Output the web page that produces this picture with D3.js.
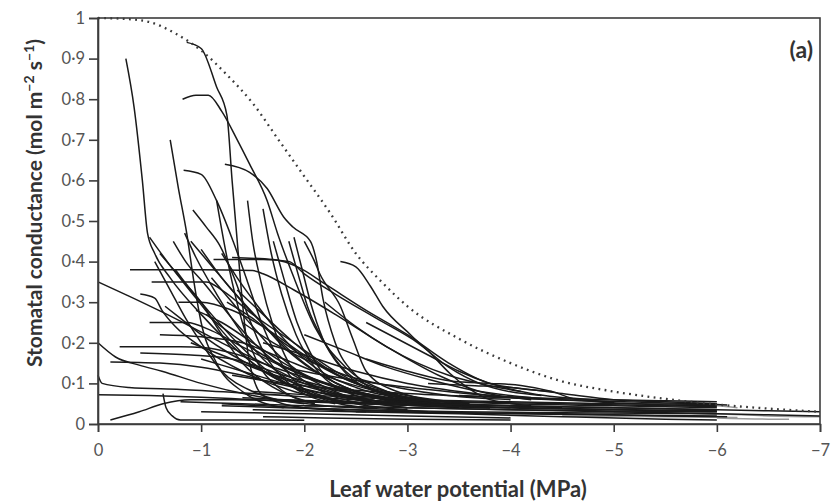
<!DOCTYPE html>
<html><head><meta charset="utf-8">
<script src="https://cdn.jsdelivr.net/npm/d3@7"></script>
<style>html,body{margin:0;padding:0;background:#fff}svg{display:block}</style>
</head><body><svg id="c" width="838" height="501"></svg>
<script>
const xTicks = [0,-1,-2,-3,-4,-5,-6,-7];
const xTickLabels = ["0","\u22121","\u22122","\u22123","\u22124","\u22125","\u22126","\u22127"];
const yTicks = [0,0.1,0.2,0.3,0.4,0.5,0.6,0.7,0.8,0.9,1];
const yTickLabels = ["0","0\u00b71","0\u00b72","0\u00b73","0\u00b74","0\u00b75","0\u00b76","0\u00b77","0\u00b78","0\u00b79","1"];

// dotted envelope
const envPsi = [0,-0.25,-0.5,-0.75,-1.0,-1.25,-1.5,-1.75,-2.0,-2.25,-2.5,-2.75,-3.0,-3.5,-4.0,-4.5,-5.0,-5.5,-6.0,-6.5,-7.0];
const envGs  = [1.0,0.998,0.99,0.962,0.92,0.86,0.79,0.70,0.61,0.52,0.42,0.35,0.29,0.21,0.15,0.105,0.08,0.062,0.048,0.038,0.03];

// individual response curves [psi, gs]
const upperCurves = [
 [[-0.27,0.90],[-0.35,0.78],[-0.43,0.60],[-0.48,0.47],[-0.55,0.42],[-0.7,0.36],[-1.0,0.27],[-1.4,0.17],[-1.9,0.09],[-2.5,0.05],[-3.2,0.03]],
 [[-0.86,0.94],[-1.0,0.925],[-1.15,0.83],[-1.25,0.76],[-1.3,0.6],[-1.35,0.45],[-1.4,0.3],[-1.47,0.15],[-1.6,0.07],[-2.0,0.04],[-2.6,0.03]],
 [[-0.82,0.80],[-0.95,0.81],[-1.07,0.81],[-1.2,0.77],[-1.35,0.70],[-1.47,0.64],[-1.64,0.55],[-1.74,0.47],[-1.9,0.36],[-2.1,0.24],[-2.4,0.14],[-2.8,0.08],[-3.3,0.05]],
 [[-0.7,0.70],[-0.78,0.58],[-0.86,0.47],[-0.93,0.35],[-1.0,0.25],[-1.15,0.15],[-1.4,0.08],[-1.8,0.04]],
 [[-0.83,0.625],[-1.0,0.615],[-1.15,0.55],[-1.31,0.45],[-1.45,0.35],[-1.6,0.24],[-1.8,0.14],[-2.1,0.07],[-2.6,0.04]],
 [[-0.92,0.527],[-1.05,0.485],[-1.18,0.44],[-1.32,0.36],[-1.45,0.27],[-1.6,0.18],[-1.85,0.1],[-2.3,0.05]],
 [[-1.23,0.64],[-1.47,0.62],[-1.64,0.58],[-1.8,0.51],[-1.89,0.485],[-2.06,0.45],[-2.12,0.40],[-2.18,0.31],[-2.3,0.2],[-2.5,0.12],[-2.8,0.07],[-3.3,0.045]],
 [[-2.35,0.40],[-2.5,0.387],[-2.64,0.34],[-2.76,0.29],[-3.03,0.22],[-3.22,0.175],[-3.41,0.125],[-3.58,0.09],[-3.8,0.06],[-4.2,0.045]]
];
const plateauCurves = [
 [[-0.31,0.38],[-1.0,0.38],[-1.5,0.378],[-1.6,0.37],[-1.9,0.33],[-2.3,0.27],[-2.8,0.19],[-3.3,0.12],[-3.7,0.08],[-4.2,0.06]],
 [[-1.12,0.405],[-1.6,0.405],[-1.85,0.40],[-2.0,0.37],[-2.3,0.32],[-2.7,0.26],[-3.1,0.2],[-3.4,0.14],[-3.7,0.1],[-4.3,0.07]],
 [[-1.3,0.41],[-1.7,0.405],[-1.95,0.385],[-2.2,0.345],[-2.6,0.28],[-3.0,0.22],[-3.4,0.15],[-3.8,0.10],[-4.4,0.08]],
 [[-0.52,0.35],[-1.05,0.35],[-1.2,0.33],[-1.5,0.27],[-1.9,0.2],[-2.3,0.13],[-2.7,0.08],[-3.2,0.05]],
 [[-0.21,0.19],[-0.8,0.19],[-1.04,0.188],[-1.3,0.175],[-1.7,0.14],[-2.2,0.1],[-2.8,0.065],[-3.5,0.045]],
 [[-0.41,0.175],[-0.9,0.17],[-1.3,0.16],[-1.8,0.12],[-2.4,0.08],[-3.0,0.055]],
 [[-0.12,0.153],[-0.6,0.15],[-1.0,0.14],[-1.4,0.12],[-1.9,0.09],[-2.5,0.06],[-3.5,0.04]],
 [[-0.5,0.25],[-0.86,0.25],[-1.1,0.23],[-1.4,0.19],[-1.8,0.14],[-2.3,0.09],[-2.9,0.055]],
 [[-0.41,0.32],[-0.55,0.31],[-0.62,0.28],[-0.75,0.24],[-1.0,0.19],[-1.4,0.13],[-1.9,0.08],[-2.6,0.05]],
 [[-0.78,0.3],[-1.0,0.3],[-1.3,0.28],[-1.6,0.24],[-2.0,0.17],[-2.4,0.11],[-2.9,0.07]],
 [[-0.6,0.22],[-1.0,0.215],[-1.4,0.2],[-1.8,0.16],[-2.3,0.11],[-2.9,0.07],[-3.6,0.05]]
];
const originCurves = [
 [[0,0.35],[-0.3,0.315],[-0.62,0.276],[-0.9,0.24],[-1.2,0.2],[-1.6,0.15],[-2.0,0.1],[-2.5,0.06],[-3.0,0.04]],
 [[0,0.2],[-0.17,0.165],[-0.4,0.145],[-0.62,0.13],[-1.0,0.1],[-1.5,0.07],[-2.2,0.045],[-3.0,0.035]],
 [[0,0.12],[-0.04,0.1],[-0.3,0.09],[-0.8,0.085],[-1.5,0.075],[-2.5,0.06],[-3.5,0.05],[-4.5,0.04]],
 [[0,0.072],[-0.5,0.07],[-1.0,0.066],[-1.5,0.06],[-2.5,0.05],[-3.5,0.042],[-5.0,0.035],[-6.0,0.03]],
 [[-0.12,0.01],[-0.4,0.03],[-0.63,0.05],[-0.9,0.06],[-1.3,0.06],[-2.0,0.055],[-3.0,0.05]],
 [[-0.63,0.075],[-0.66,0.04],[-0.72,0.02],[-0.8,0.01],[-1.4,0.01],[-2.0,0.009]]
];
const diagonalCurves = [
 [[-0.5,0.46],[-0.7,0.39],[-0.95,0.31],[-1.2,0.23],[-1.5,0.15],[-1.9,0.09],[-2.4,0.05]],
 [[-0.84,0.47],[-0.95,0.41],[-1.15,0.32],[-1.35,0.24],[-1.6,0.16],[-1.9,0.1],[-2.3,0.06]],
 [[-0.73,0.45],[-0.85,0.4],[-1.05,0.34],[-1.3,0.26],[-1.55,0.19],[-1.9,0.12],[-2.4,0.07],[-3.0,0.05]],
 [[-0.6,0.42],[-0.8,0.36],[-1.0,0.3],[-1.2,0.22],[-1.4,0.15],[-1.7,0.09],[-2.1,0.05]],
 [[-0.55,0.4],[-0.7,0.33],[-0.85,0.26],[-1.0,0.2],[-1.2,0.13],[-1.5,0.08],[-2.0,0.05]],
 [[-0.9,0.45],[-1.1,0.39],[-1.3,0.33],[-1.55,0.26],[-1.8,0.19],[-2.1,0.13],[-2.5,0.08],[-3.0,0.05]],
 [[-1.0,0.43],[-1.2,0.36],[-1.4,0.3],[-1.7,0.22],[-2.0,0.15],[-2.4,0.09],[-2.9,0.06]],
 [[-0.95,0.28],[-1.2,0.25],[-1.5,0.2],[-1.8,0.15],[-2.2,0.1],[-2.7,0.07],[-3.3,0.05]],
 [[-0.65,0.29],[-0.8,0.26],[-1.0,0.22],[-1.3,0.17],[-1.7,0.12],[-2.2,0.08],[-2.9,0.05]],
 [[-1.1,0.36],[-1.3,0.3],[-1.5,0.24],[-1.75,0.17],[-2.0,0.12],[-2.4,0.07],[-3.0,0.04]],
 [[-1.05,0.27],[-1.3,0.22],[-1.6,0.17],[-2.0,0.12],[-2.5,0.08],[-3.1,0.05],[-3.8,0.04]],
 [[-1.25,0.3],[-1.5,0.26],[-1.8,0.2],[-2.1,0.15],[-2.5,0.1],[-3.0,0.07],[-3.6,0.05]],
 [[-0.9,0.2],[-1.2,0.17],[-1.6,0.13],[-2.0,0.1],[-2.6,0.07],[-3.3,0.05],[-4.0,0.04]],
 [[-1.4,0.25],[-1.7,0.2],[-2.0,0.16],[-2.4,0.12],[-2.9,0.09],[-3.4,0.07],[-4.0,0.06]],
 [[-1.15,0.55],[-1.22,0.45],[-1.3,0.35],[-1.4,0.25],[-1.55,0.15],[-1.75,0.09],[-2.1,0.05]],
 [[-1.45,0.55],[-1.5,0.45],[-1.58,0.35],[-1.7,0.24],[-1.85,0.15],[-2.1,0.09],[-2.6,0.05]],
 [[-1.6,0.53],[-1.68,0.42],[-1.78,0.32],[-1.92,0.22],[-2.1,0.14],[-2.4,0.08],[-2.9,0.05]],
 [[-1.9,0.46],[-1.98,0.38],[-2.06,0.3],[-2.18,0.21],[-2.35,0.14],[-2.6,0.09],[-3.1,0.06]],
 [[-1.7,0.45],[-1.8,0.36],[-1.93,0.25],[-2.05,0.18],[-2.18,0.126],[-2.5,0.08],[-3.0,0.05]],
 [[-1.85,0.45],[-1.95,0.36],[-2.03,0.29],[-2.2,0.2],[-2.4,0.13],[-2.8,0.08],[-3.4,0.05]],
 [[-2.0,0.45],[-2.1,0.4],[-2.15,0.37],[-2.35,0.29],[-2.47,0.21],[-2.6,0.13],[-2.9,0.08],[-3.5,0.05]],
 [[-0.75,0.38],[-0.9,0.33],[-1.1,0.27],[-1.35,0.2],[-1.65,0.13],[-2.0,0.08],[-2.6,0.05]],
 [[-1.2,0.42],[-1.35,0.36],[-1.55,0.29],[-1.8,0.21],[-2.1,0.14],[-2.5,0.09],[-3.1,0.06]],
 [[-1.35,0.33],[-1.6,0.27],[-1.9,0.2],[-2.2,0.14],[-2.6,0.09],[-3.2,0.06]],
 [[-1.0,0.16],[-1.4,0.13],[-1.8,0.1],[-2.3,0.07],[-3.0,0.05],[-3.8,0.04]]
];
const middleCurves = [
 [[-1.6,0.2],[-2.0,0.17],[-2.5,0.13],[-3.0,0.1],[-3.5,0.08],[-4.0,0.065],[-5.0,0.055]],
 [[-2.0,0.22],[-2.4,0.18],[-2.8,0.14],[-3.2,0.11],[-3.6,0.085],[-4.2,0.065]],
 [[-1.3,0.12],[-1.8,0.1],[-2.4,0.085],[-3.0,0.075],[-3.6,0.068],[-4.5,0.06],[-5.5,0.052],[-6.0,0.05]],
 [[-2.2,0.3],[-2.5,0.24],[-2.8,0.19],[-3.1,0.15],[-3.4,0.12],[-3.7,0.1],[-4.1,0.08]],
 [[-2.6,0.25],[-2.9,0.21],[-3.2,0.17],[-3.5,0.13],[-3.8,0.1],[-4.2,0.075],[-4.8,0.06]],
 [[-2.6,0.16],[-3.0,0.13],[-3.44,0.105],[-3.8,0.1],[-4.1,0.095],[-4.4,0.08],[-4.65,0.06],[-5.2,0.05],[-6.0,0.045]],
 [[-3.2,0.1],[-3.6,0.095],[-4.0,0.09],[-4.5,0.075],[-5.0,0.06],[-5.5,0.055],[-6.0,0.05]],
 [[-1.8,0.14],[-2.2,0.12],[-2.7,0.1],[-3.2,0.085],[-3.8,0.07],[-4.5,0.06]]
];
const lowCurves = [
 [[-1.5,0.08],[-2.5,0.065],[-3.5,0.055],[-4.5,0.05],[-5.5,0.045],[-6.0,0.043]],
 [[-1.8,0.06],[-3.0,0.05],[-4.0,0.045],[-5.0,0.04],[-6.0,0.035]],
 [[-2.0,0.045],[-3.0,0.04],[-4.0,0.035],[-5.0,0.03],[-6.0,0.025],[-7.0,0.02]],
 [[-1.2,0.05],[-2.0,0.04],[-3.0,0.03],[-4.0,0.025],[-5.0,0.022],[-6.0,0.02]],
 [[-3.0,0.06],[-4.0,0.055],[-5.0,0.05],[-6.0,0.048],[-6.1,0.047]],
 [[-2.5,0.03],[-3.5,0.028],[-4.5,0.025],[-5.5,0.02],[-6.1,0.018]],
 [[-3.5,0.07],[-4.5,0.062],[-5.5,0.057],[-6.0,0.055]],
 [[-1.5,0.035],[-2.5,0.03],[-3.5,0.025],[-4.5,0.018],[-5.5,0.012],[-6.0,0.01]],
 [[-3.0,0.05],[-4.0,0.045],[-5.0,0.04],[-6.0,0.035],[-7.0,0.03]],
 [[-1.0,0.03],[-1.5,0.028],[-2.0,0.025],[-3.0,0.02],[-4.0,0.015]],
 [[-1.2,0.045],[-1.8,0.04],[-2.5,0.035],[-3.5,0.03],[-4.5,0.028],[-6.0,0.025]],
 [[-1.6,0.018],[-2.2,0.015],[-3.0,0.012],[-4.0,0.01]],
 [[-0.8,0.055],[-1.4,0.05],[-2.0,0.045],[-3.0,0.04],[-4.0,0.035],[-5.0,0.032],[-6.0,0.03]],
 [[-1.4,0.065],[-2.2,0.055],[-3.2,0.045],[-4.2,0.04],[-5.2,0.035],[-6.0,0.033]],
 [[-2.2,0.075],[-3.0,0.06],[-4.0,0.05],[-5.0,0.045],[-6.0,0.04]]
];
const grayCurves = [
 [[-5.0,0.03],[-5.5,0.028],[-6.0,0.025],[-6.5,0.02],[-7.0,0.018]],
 [[-5.6,0.05],[-6.0,0.045],[-6.2,0.04]],
 [[-6.0,0.015],[-6.5,0.012],[-6.7,0.012]],
 [[-4.5,0.02],[-5.5,0.018],[-6.2,0.016]]
];

const W = 838, H = 501;
const m = {l:98, r:18, t:18, b:77};
const svg = d3.select("#c");
const x = d3.scaleLinear().domain([0,-7]).range([m.l, W-m.r]);
const y = d3.scaleLinear().domain([0,1]).range([H-m.b, m.t]);

const line = d3.line().x(d=>x(d[0])).y(d=>y(d[1])).curve(d3.curveMonotoneX);
const g = svg.append("g");
const black = [].concat(upperCurves, plateauCurves, originCurves, diagonalCurves, middleCurves, lowCurves);
g.selectAll("path.gc").data(grayCurves).join("path").attr("class","gc")
 .attr("d", line).attr("fill","none").attr("stroke","#9a9a9a").attr("stroke-width",1.5);
g.selectAll("path.bc").data(black).join("path").attr("class","bc")
 .attr("d", line).attr("fill","none").attr("stroke","#1a1a1a").attr("stroke-width",1.5);

const env = envPsi.map((p,i)=>[p, envGs[i]]);
svg.append("path").attr("d", line(env))
 .attr("fill","none").attr("stroke","#3a3a3a").attr("stroke-width",2.3).attr("stroke-dasharray","1.8,4.4");

// frame
svg.append("rect").attr("x",m.l).attr("y",m.t).attr("width",W-m.l-m.r).attr("height",H-m.t-m.b)
 .attr("fill","none").attr("stroke","#3c3c3c").attr("stroke-width",1.6);

const font = "Lato, 'Open Sans', sans-serif";
const xAxis = d3.axisBottom(x).tickValues(xTicks).tickSize(8).tickPadding(12)
 .tickFormat((d,i)=>xTickLabels[i]);
const gx = svg.append("g").attr("transform",`translate(0,${H-m.b})`).call(xAxis);
const yAxis = d3.axisLeft(y).tickValues(yTicks).tickSize(9).tickPadding(4)
 .tickFormat((d,i)=>yTickLabels[i]);
const gy = svg.append("g").attr("transform",`translate(${m.l},0)`).call(yAxis);
[gx,gy].forEach(a=>{
  a.select(".domain").attr("stroke","#3c3c3c").attr("stroke-width",1.6);
  a.selectAll(".tick line").attr("stroke","#3c3c3c").attr("stroke-width",1.6);
  a.selectAll(".tick text").attr("fill","#555").style("font-family",font).style("font-size","16.5px");
});

svg.append("text").attr("x",458).attr("y",497).attr("text-anchor","middle")
 .style("font-family",font).style("font-weight","bold").style("font-size","22px").attr("fill","#333")
 .text("Leaf water potential (MPa)");

const yt = svg.append("text").attr("transform","translate(42,203) rotate(-90)").attr("text-anchor","middle")
 .style("font-family",font).style("font-weight","bold").style("font-size","21px").attr("fill","#333");
yt.append("tspan").text("Stomatal conductance (mol m");
yt.append("tspan").attr("dy",-8).style("font-size","14px").text("\u22122");
yt.append("tspan").attr("dy",8).text(" s");
yt.append("tspan").attr("dy",-8).style("font-size","14px").text("\u22121");
yt.append("tspan").attr("dy",8).text(")");

svg.append("text").attr("x",813).attr("y",58).attr("text-anchor","end")
 .style("font-family",font).style("font-weight","bold").style("font-size","23px").attr("fill","#333")
 .text("(a)");
</script></body></html>
